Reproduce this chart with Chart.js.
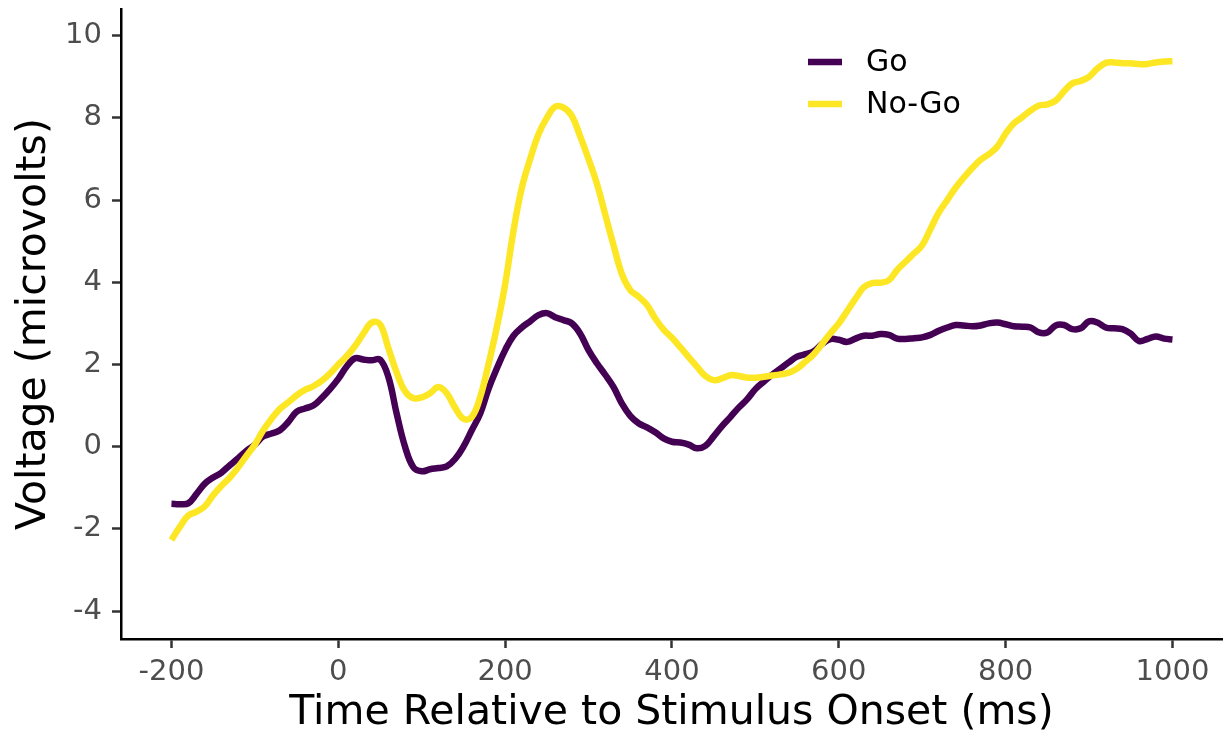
<!DOCTYPE html>
<html>
<head>
<meta charset="utf-8">
<script src="https://cdn.jsdelivr.net/npm/chart.js@4.4.1/dist/chart.umd.min.js"></script>
<style>
  html, body { margin: 0; padding: 0; background: #ffffff; }
  #wrap { width: 1225px; height: 738px; }
</style>
</head>
<body>
<div id="wrap"><canvas id="erp" width="1225" height="738"></canvas></div>
<script>
// Sample times (ms relative to stimulus onset), 10 ms spacing
const times = [];
for (let t = -200; t <= 1000; t += 10) times.push(t);

// Grand-average ERP voltage (microvolts) per condition
const goVoltage = [
  -1.39, -1.40, -1.38, -1.15, -0.90, -0.75, -0.63, -0.45, -0.28, -0.10,
   0.05,  0.25,  0.32,  0.40,  0.60,  0.85,  0.93,  1.00,  1.18,  1.40,
   1.65,  1.95,  2.15,  2.12,  2.10,  2.12,  1.70,  0.80,  0.00, -0.50,
  -0.60, -0.55, -0.52, -0.48, -0.30,  0.00,  0.40,  0.80,  1.40,  1.90,
   2.35,  2.70,  2.90,  3.05,  3.20,  3.25,  3.15,  3.08,  3.00,  2.75,
   2.35,  2.03,  1.75,  1.45,  1.05,  0.75,  0.57,  0.47,  0.35,  0.20,
   0.12,  0.10,  0.05, -0.04,  0.02,  0.25,  0.50,  0.72,  0.95,  1.15,
   1.40,  1.58,  1.75,  1.90,  2.05,  2.19,  2.25,  2.32,  2.50,  2.62,
   2.60,  2.55,  2.63,  2.70,  2.70,  2.74,  2.72,  2.63,  2.62,  2.64,
   2.66,  2.72,  2.82,  2.90,  2.96,  2.95,  2.93,  2.95,  3.00,  3.02,
   2.98,  2.93,  2.92,  2.90,  2.78,  2.78,  2.95,  2.96,  2.86,  2.88,
   3.05,  3.02,  2.90,  2.88,  2.86,  2.75,  2.57,  2.62,  2.68,  2.63,
   2.61
];

const noGoVoltage = [
  -2.27, -1.95, -1.68, -1.58, -1.45, -1.18, -0.95, -0.75, -0.50, -0.22,
   0.05,  0.40,  0.68,  0.92,  1.08,  1.25,  1.38,  1.47,  1.60,  1.78,
   2.00,  2.20,  2.45,  2.75,  3.02,  2.98,  2.40,  1.80,  1.35,  1.18,
   1.20,  1.30,  1.45,  1.30,  0.95,  0.68,  0.72,  1.20,  2.00,  2.90,
   3.95,  5.25,  6.30,  7.00,  7.60,  8.00,  8.27,  8.25,  8.05,  7.55,
   7.00,  6.40,  5.65,  4.90,  4.20,  3.81,  3.65,  3.45,  3.12,  2.85,
   2.65,  2.42,  2.18,  1.95,  1.72,  1.62,  1.66,  1.74,  1.72,  1.68,
   1.68,  1.70,  1.73,  1.76,  1.80,  1.90,  2.07,  2.25,  2.50,  2.76,
   3.00,  3.30,  3.60,  3.88,  3.98,  3.99,  4.05,  4.30,  4.50,  4.70,
   4.90,  5.30,  5.70,  6.00,  6.30,  6.55,  6.78,  6.98,  7.12,  7.30,
   7.62,  7.87,  8.02,  8.18,  8.30,  8.33,  8.42,  8.65,  8.84,  8.90,
   9.00,  9.20,  9.34,  9.35,  9.33,  9.33,  9.31,  9.31,  9.35,  9.37,
   9.38
];

const conditionLabels = ['Go', 'No-Go'];
const conditionColors = ['#440154', '#FDE725'];

const xTickValues = [-200, 0, 200, 400, 600, 800, 1000];
const yTickValues = [-4, -2, 0, 2, 4, 6, 8, 10];

const FONT = '"DejaVu Sans", "Open Sans", sans-serif';

function toPoints(values) {
  return times.map((t, i) => ({ x: t, y: values[i] }));
}

// Legend drawn inside the plot panel, top right
const insetLegend = {
  id: 'insetLegend',
  afterDraw(chart) {
    const ctx = chart.ctx;
    ctx.save();
    ctx.font = '30px ' + FONT;
    ctx.textBaseline = 'middle';
    ctx.textAlign = 'left';
    const rows = [62, 104];
    chart.data.datasets.forEach((ds, i) => {
      const y = rows[i];
      ctx.strokeStyle = ds.borderColor;
      ctx.lineWidth = 6.5;
      ctx.lineCap = 'butt';
      ctx.beginPath();
      ctx.moveTo(808, y);
      ctx.lineTo(842, y);
      ctx.stroke();
      ctx.fillStyle = '#000000';
      ctx.fillText(ds.label, 866, y + 1);
    });
    ctx.restore();
  }
};

new Chart(document.getElementById('erp'), {
  type: 'line',
  data: {
    datasets: [
      {
        label: conditionLabels[0],
        data: toPoints(goVoltage),
        borderColor: conditionColors[0],
        borderWidth: 6.5,
        pointRadius: 0,
        tension: 0.4,
        borderJoinStyle: 'round',
        fill: false,
        order: 1
      },
      {
        label: conditionLabels[1],
        data: toPoints(noGoVoltage),
        borderColor: conditionColors[1],
        borderWidth: 6.5,
        pointRadius: 0,
        tension: 0.4,
        borderJoinStyle: 'round',
        fill: false,
        order: 0
      }
    ]
  },
  options: {
    responsive: false,
    animation: false,
    layout: { padding: { top: 9, right: 3, left: 0, bottom: 0 } },
    plugins: {
      legend: { display: false },
      tooltip: { enabled: false }
    },
    scales: {
      x: {
        type: 'linear',
        min: -260.5,
        max: 1059.4,
        afterBuildTicks(scale) { scale.ticks = xTickValues.map(v => ({ value: v })); },
        afterFit(scale) {
          scale.height = 99;
          scale.paddingLeft = 0;
          scale.paddingRight = 0;
        },
        border: { display: true, color: '#000000', width: 2.5 },
        grid: { display: true, drawOnChartArea: false, drawTicks: true, tickLength: 9, tickWidth: 2.5, tickColor: '#333333' },
        ticks: {
          color: '#4d4d4d',
          font: { family: FONT, size: 29 },
          padding: 7,
          maxRotation: 0,
          autoSkip: false,
          callback: v => String(v)
        },
        title: {
          display: true,
          text: 'Time Relative to Stimulus Onset (ms)',
          color: '#000000',
          font: { family: FONT, size: 41 },
          padding: { top: 0, bottom: 0 }
        }
      },
      y: {
        type: 'linear',
        min: -4.68,
        max: 10.65,
        afterBuildTicks(scale) { scale.ticks = yTickValues.map(v => ({ value: v })); },
        afterFit(scale) {
          scale.width = 121;
          scale.paddingTop = 0;
          scale.paddingBottom = 0;
        },
        border: { display: true, color: '#000000', width: 2.5 },
        grid: { display: true, drawOnChartArea: false, drawTicks: true, tickLength: 9, tickWidth: 2.5, tickColor: '#333333' },
        ticks: {
          color: '#4d4d4d',
          font: { family: FONT, size: 29 },
          padding: 10,
          autoSkip: false,
          callback: v => String(v)
        },
        title: {
          display: true,
          text: 'Voltage (microvolts)',
          color: '#000000',
          font: { family: FONT, size: 41 },
          padding: { top: 10, bottom: 0 }
        }
      }
    }
  },
  plugins: [insetLegend]
});
</script>
</body>
</html>
